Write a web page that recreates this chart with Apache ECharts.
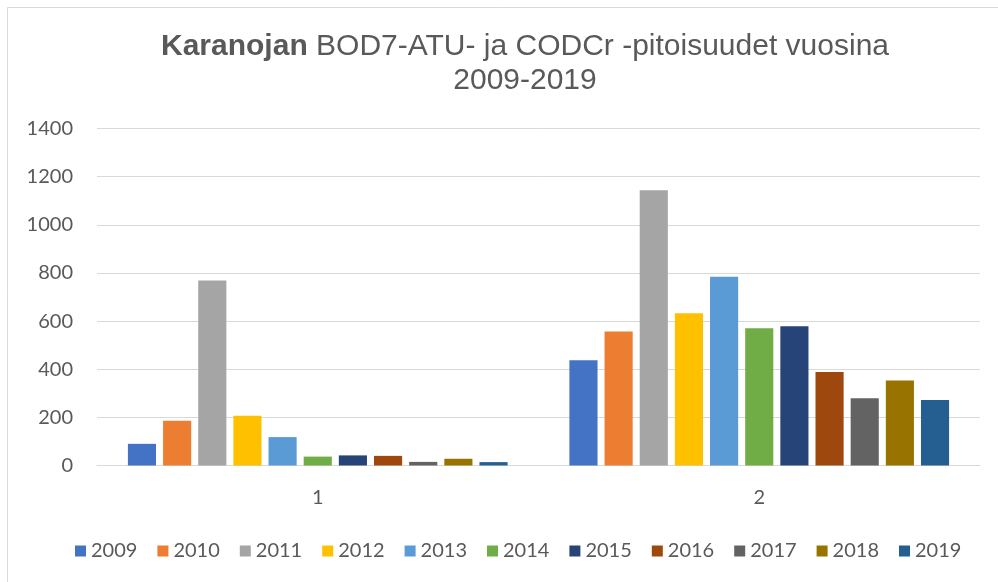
<!DOCTYPE html>
<html><head><meta charset="utf-8">
<script src="https://cdn.jsdelivr.net/npm/echarts@6/dist/echarts.min.js"></script>
<style>html,body{margin:0;padding:0;background:#fff}#c{width:998px;height:582px}</style>
</head><body><div id="c"></div>
<script>
const categories = ['1', '2'];
const years = ['2009','2010','2011','2012','2013','2014','2015','2016','2017','2018','2019'];
const v2009 = [90, 437];
const v2010 = [186, 557];
const v2011 = [769, 1143];
const v2012 = [207, 632];
const v2013 = [118, 784];
const v2014 = [37, 570];
const v2015 = [42, 578];
const v2016 = [40, 388];
const v2017 = [15, 279];
const v2018 = [28, 353];
const v2019 = [14, 272];
const seriesValues = [v2009, v2010, v2011, v2012, v2013, v2014, v2015, v2016, v2017, v2018, v2019];
const colors = ['#4472C4','#ED7D31','#A5A5A5','#FFC000','#5B9BD5','#70AD47','#264478','#9E480E','#636363','#997300','#255E91'];

const chart = echarts.init(document.getElementById('c'));
chart.setOption({
  animation: false,
  backgroundColor: '#fff',
  color: colors,
  graphic: [{
    type: 'rect', shape: { x: 7.5, y: 7.5, width: 1100, height: 700 },
    style: { fill: 'none', stroke: '#d9d9d9', lineWidth: 1 }, silent: true, z: -1
  }],
  title: {
    text: '{b|Karanojan} BOD7-ATU- ja CODCr -pitoisuudet vuosina\n2009-2019',
    left: 520, textAlign: 'center', top: 25,
    textStyle: {
      fontFamily: 'Liberation Sans', fontSize: 30, color: '#595959', fontWeight: 'normal', lineHeight: 34,
      rich: { b: { fontFamily: 'Liberation Sans', fontSize: 30, fontWeight: 'bold', color: '#595959', lineHeight: 34 } }
    }
  },
  legend: {
    top: 536, left: 70, itemWidth: 11, itemHeight: 11, itemGap: 20,
    icon: 'rect',
    textStyle: { fontFamily: 'Lato', fontSize: 20, color: '#595959' },
    data: years
  },
  grid: { left: 97, right: 18, top: 128.5, bottom: 116.5, containLabel: false },
  xAxis: {
    type: 'category', data: categories,
    axisLine: { lineStyle: { color: '#d9d9d9', width: 1 } },
    axisTick: { show: false },
    axisLabel: { fontFamily: 'Lato', fontSize: 20, color: '#595959', margin: 22 }
  },
  yAxis: {
    type: 'value', min: 0, max: 1400, interval: 200,
    axisLine: { show: false }, axisTick: { show: false },
    splitLine: { lineStyle: { color: '#d9d9d9', width: 1 } },
    axisLabel: { fontFamily: 'Lato', fontSize: 20, color: '#595959', margin: 24, formatter: v => String(v) }
  },
  series: years.map((y, i) => ({
    name: y, type: 'bar', data: seriesValues[i],
    barGap: '25%', barCategoryGap: '14%',
    itemStyle: { color: colors[i] }
  }))
});
</script></body></html>
